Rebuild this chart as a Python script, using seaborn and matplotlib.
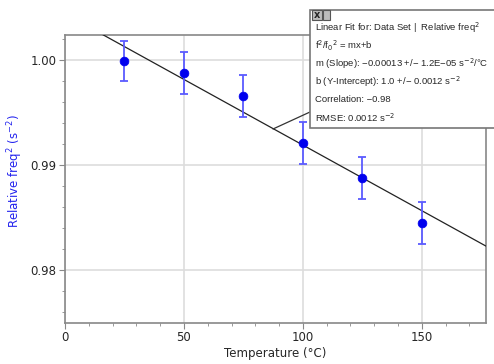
import numpy as np
import pandas as pd
import seaborn as sns
import matplotlib
matplotlib.use("Agg")
import matplotlib.pyplot as plt
from matplotlib.patches import Rectangle

temperature = [25, 50, 75, 100, 125, 150]
rel_freq2 = [0.9999, 0.9988, 0.9966, 0.9921, 0.9888, 0.9845]
err = [0.0019, 0.0020, 0.0020, 0.0020, 0.0020, 0.0020]
fit_slope = -0.000125
fit_intercept = 1.0044
fit_text = [
    "Linear Fit for: Data Set |  Relative freq$^2$",
    "f$^2$/f$_0$$^2$ = mx+b",
    "m (Slope): \u22120.00013 +/\u2212 1.2E\u221205 s$^{-2}$/\u00b0C",
    "b (Y-Intercept): 1.0 +/\u2212 0.0012 s$^{-2}$",
    "Correlation: \u22120.98",
    "RMSE: 0.0012 s$^{-2}$",
]

df = pd.DataFrame({"T": temperature, "f": rel_freq2, "e": err})

sns.set_style("white")
plt.rcParams['font.family'] = ['DejaVu Sans']

fig = plt.figure(figsize=(4.94, 3.64), dpi=100)
ax = fig.add_axes([0.1316, 0.1126, 0.8522, 0.7912])

ax.set_xlim(0, 177)
ax.set_ylim(0.97495, 1.00238)

ax.set_xticks([0, 50, 100, 150])
ax.set_xticks(np.arange(0, 177, 10), minor=True)
ax.set_yticks([0.98, 0.99, 1.00])
ax.set_yticks(np.arange(0.976, 1.0024, 0.002), minor=True)
ax.set_yticklabels(["0.98", "0.99", "1.00"])
ax.grid(True, which="major", color="#dddddd", lw=1.2)
ax.set_axisbelow(True)

xs = np.array([0, 177])
ax.plot(xs, fit_intercept + fit_slope * xs, color="#222222", lw=0.9, zorder=3)

ax.errorbar(df["T"], df["f"], yerr=df["e"], fmt="none", ecolor="#5b5bff",
            elinewidth=1.3, capsize=3, capthick=1.3, zorder=4)
sns.scatterplot(data=df, x="T", y="f", ax=ax, color="#0000ee", s=40,
                edgecolor="#0000ee", zorder=5, legend=False)

for s in ax.spines.values():
    s.set_color("#888888")
    s.set_linewidth(1.2)
ax.tick_params(which="both", direction="out", color="#888888", labelsize=8.5,
               left=True, bottom=True)
ax.tick_params(which="major", length=4, pad=2)
ax.tick_params(which="minor", length=2.5)

ax.set_xlabel("Temperature (\u00b0C)", fontsize=8.5, labelpad=2)
ax.set_ylabel("")
fig.text(15 / 494, 1 - 171 / 364, "Relative freq$^2$ (s$^{-2}$)", fontsize=8.5,
         color="#2222ee", rotation=90, ha="center", va="center")

# leader line from fit box to fit line
fig.add_artist(plt.Line2D([273 / 494, 310 / 494], [1 - 129 / 364, 1 - 112 / 364],
                          color="#333333", lw=0.9))

# fit info box
bx0, by0 = 310 / 494, 1 - 128 / 364
fig.add_artist(Rectangle((bx0, by0), 1 - bx0 + 0.01, (128 - 10) / 364,
                         transform=fig.transFigure, facecolor="white",
                         edgecolor="#777777", lw=1.2, zorder=10))
fig.add_artist(Rectangle((312 / 494, 1 - 20 / 364), 10 / 494, 10 / 364,
                         transform=fig.transFigure, facecolor="#bbbbbb",
                         edgecolor="#555555", lw=0.8, zorder=11))
fig.add_artist(Rectangle((323 / 494, 1 - 20 / 364), 7 / 494, 10 / 364,
                         transform=fig.transFigure, facecolor="#bbbbbb",
                         edgecolor="#555555", lw=0.8, zorder=11))
fig.text(317 / 494, 1 - 15 / 364, "x", fontsize=7, ha="center", va="center",
         fontweight="bold", zorder=12)
for i, line in enumerate(fit_text):
    fig.text(315 / 494, 1 - (28 + 18 * i) / 364, line, fontsize=6.8,
             family="Liberation Sans", ha="left", va="center", zorder=12)

fig.savefig("out.png", dpi=100)
